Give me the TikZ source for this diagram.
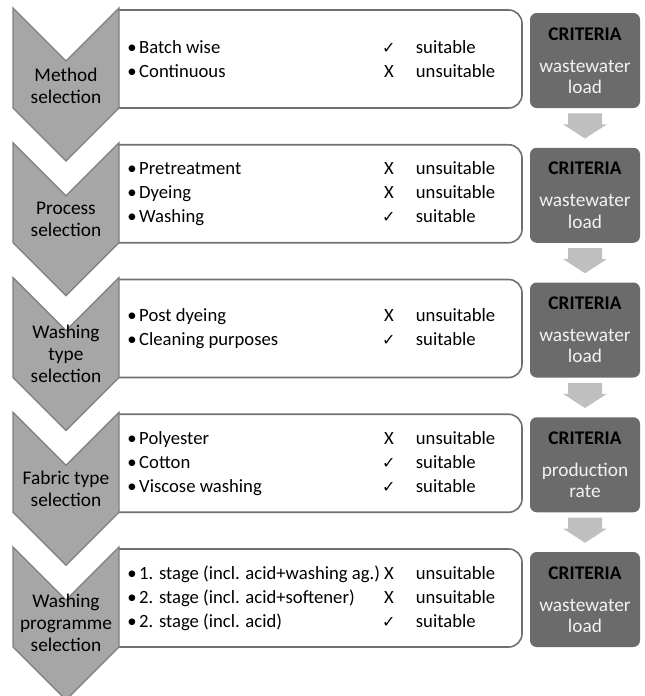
\documentclass[tikz,border=0pt]{standalone}
\usepackage{fontspec}
\setmainfont{Carlito}
\newfontfamily\symfont{DejaVu Sans}
\usepackage{tikz}
\usetikzlibrary{calc}
\usepackage{xcolor}
\definecolor{chevfill}{HTML}{A6A6A6}
\definecolor{chevline}{HTML}{7F7F7F}
\definecolor{boxline}{HTML}{707070}
\definecolor{critfill}{HTML}{6B6B6B}
\definecolor{crittext}{HTML}{F2F2F2}
\definecolor{arrowgray}{HTML}{BFBFBF}
\newcommand\ok{{\symfont\fontsize{12}{12}\selectfont ✓}}
\newcommand\entry[3]{\makebox[188pt][l]{•\hspace{2pt}#1}\makebox[16.5pt][c]{#2}\hspace{12pt}#3}
\newcommand\crithead{{\bfseries\color{black}CRITERIA}\\[8pt]}

\begin{document}
\begin{tikzpicture}[x=0.75pt,y=-0.75pt,
  chev/.style={fill=chevfill,draw=chevline,line width=1pt},
  listbox/.style={fill=white,draw=boxline,line width=1.2pt},
  crit/.style={fill=critfill,rounded corners=5pt,minimum width=82.5pt,minimum height=71.25pt,inner sep=0pt,align=center,text=crittext,font=\fontsize{14.5}{16}\selectfont},
  stage/.style={align=center,inner sep=0pt,font=\fontsize{14.5}{16.5}\selectfont},
  items/.style={anchor=west,align=left,inner sep=0pt,font=\fontsize{14}{18}\selectfont},
  down/.style={fill=arrowgray}
  ]
\def\h{134.75}
\useasboundingbox (0,0) rectangle (644,696);
\foreach \i/\c in {1/{wastewater\\load},2/{wastewater\\load},3/{wastewater\\load},4/{production\\rate},5/{wastewater\\load}}{
  \pgfmathsetmacro\t{8+\h*(\i-1)}
  \draw[listbox] (118,\t+2) [rounded corners=10pt] -- (522,\t+2) -- (522,\t+100) [sharp corners] -- (118,\t+100) -- cycle;
  \draw[chev] (13,\t) -- (66,\t+53) -- (119,\t) -- (119,\t+100) -- (66,\t+153) -- (13,\t+100) -- cycle;
  \node[crit] (C\i) at (585,\t+52.5) {\crithead\c};
}
\foreach \i/\j in {1/2,2/3,3/4,4/5}
  \fill[down] ($(C\i.south)+(-17,5)$) -- ($(C\i.south)+(17,5)$) -- ($(C\i.south)+(17,16)$) -- ($(C\i.south)+(22,16)$)
    -- ($(C\j.north)+(0,-9)$) -- ($(C\i.south)+(-22,16)$) -- ($(C\i.south)+(-17,16)$) -- cycle;

\node[stage] (S1) at (66,86) {Method\\selection};
\node[stage] (S2) at (66,219) {Process\\selection};
\node[stage] (S3) at (66,354) {Washing\\type\\selection};
\node[stage] (S4) at (66,489) {Fabric type\\selection};
\node[stage] (S5) at (66,623) {Washing\\programme\\selection};

\node[items] (L1) at (127,59) {\entry{Batch wise}{\ok}{suitable}\\\entry{Continuous}{X}{unsuitable}};
\node[items] (L2) at (127,193.75) {\entry{Pretreatment}{X}{unsuitable}\\\entry{Dyeing}{X}{unsuitable}\\\entry{Washing}{\ok}{suitable}};
\node[items] (L3) at (127,328.5) {\entry{Post dyeing}{X}{unsuitable}\\\entry{Cleaning purposes}{\ok}{suitable}};
\node[items] (L4) at (127,463.25) {\entry{Polyester}{X}{unsuitable}\\\entry{Cotton}{\ok}{suitable}\\\entry{Viscose washing}{\ok}{suitable}};
\node[items] (L5) at (127,598) {\entry{1. stage (incl. acid+washing ag.)}{X}{unsuitable}\\\entry{2. stage (incl. acid+softener)}{X}{unsuitable}\\\entry{2. stage (incl. acid)}{\ok}{suitable}};
\end{tikzpicture}
\end{document}
